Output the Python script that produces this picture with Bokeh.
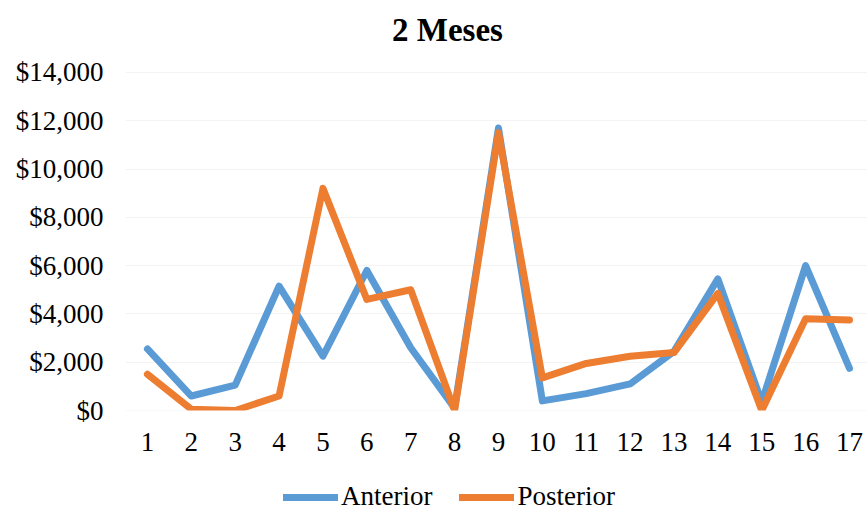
from bokeh.plotting import figure
from bokeh.models import (Range1d, Legend, LegendItem, FixedTicker, NumeralTickFormatter,
                          ColumnDataSource, Label, BoxAnnotation)
from bokeh.embed import file_html
from bokeh.resources import INLINE

# Data
periods = list(range(1, 18))
anterior = [2550, 600, 1050, 5150, 2250, 5800, 2600, 100, 11700, 400, 700, 1100, 2450, 5450, 350, 6000, 1750]
posterior = [1500, 50, 0, 600, 9200, 4600, 5000, 0, 11500, 1350, 1950, 2250, 2400, 4850, 0, 3800, 3750]
y_ticks = [0, 2000, 4000, 6000, 8000, 10000, 12000, 14000]
title_text = "2 Meses"

FONT = "Liberation Serif"
BLUE = "#5B9BD5"
ORANGE = "#ED7D31"

src = ColumnDataSource(dict(x=periods, a=anterior, p=posterior))

p = figure(width=867, height=513, output_backend="svg", toolbar_location=None,
           x_range=Range1d(0.5, 17.41), y_range=Range1d(-4266, 16982),
           min_border_left=125, min_border_right=0, min_border_top=0, min_border_bottom=0)

r1 = p.line("x", "a", source=src, line_color=BLUE, line_width=7, line_cap="round", line_join="round")
r2 = p.line("x", "p", source=src, line_color=ORANGE, line_width=7, line_cap="round", line_join="round")

# clip the lines at the $0 baseline like the original plot area
p.add_layout(BoxAnnotation(top=0, fill_color="white", fill_alpha=1, line_color=None, level="glyph"))

p.outline_line_color = None
p.xgrid.grid_line_color = None
p.ygrid.grid_line_color = "#f3f3f3"
p.ygrid.ticker = FixedTicker(ticks=y_ticks)

p.yaxis.ticker = FixedTicker(ticks=y_ticks)
p.yaxis.formatter = NumeralTickFormatter(format="$0,0")
p.xaxis.ticker = FixedTicker(ticks=periods)
p.xaxis.fixed_location = 0
for ax in (p.xaxis[0], p.yaxis[0]):
    ax.axis_line_color = None
    ax.major_tick_line_color = None
    ax.minor_tick_line_color = None
    ax.major_label_text_font = FONT
    ax.major_label_text_font_size = "27px"
    ax.major_label_text_color = "black"
p.yaxis.major_label_standoff = 16
p.xaxis.major_label_standoff = 16

p.add_layout(Label(x=322, y=484, x_units="screen", y_units="screen", text=title_text,
                   text_font=FONT, text_font_size="33px", text_font_style="bold",
                   text_color="black", text_align="center", text_baseline="alphabetic"))

legend = Legend(items=[LegendItem(label="Anterior", renderers=[r1]),
                       LegendItem(label="Posterior", renderers=[r2])],
                orientation="horizontal", location=(158, 1),
                glyph_width=55, glyph_height=20, label_standoff=3, spacing=27,
                padding=0, margin=0, border_line_color=None, background_fill_alpha=0,
                label_text_font=FONT, label_text_font_size="27px", label_text_color="black")
p.add_layout(legend)

open("out.html", "w").write(file_html(p, INLINE))
